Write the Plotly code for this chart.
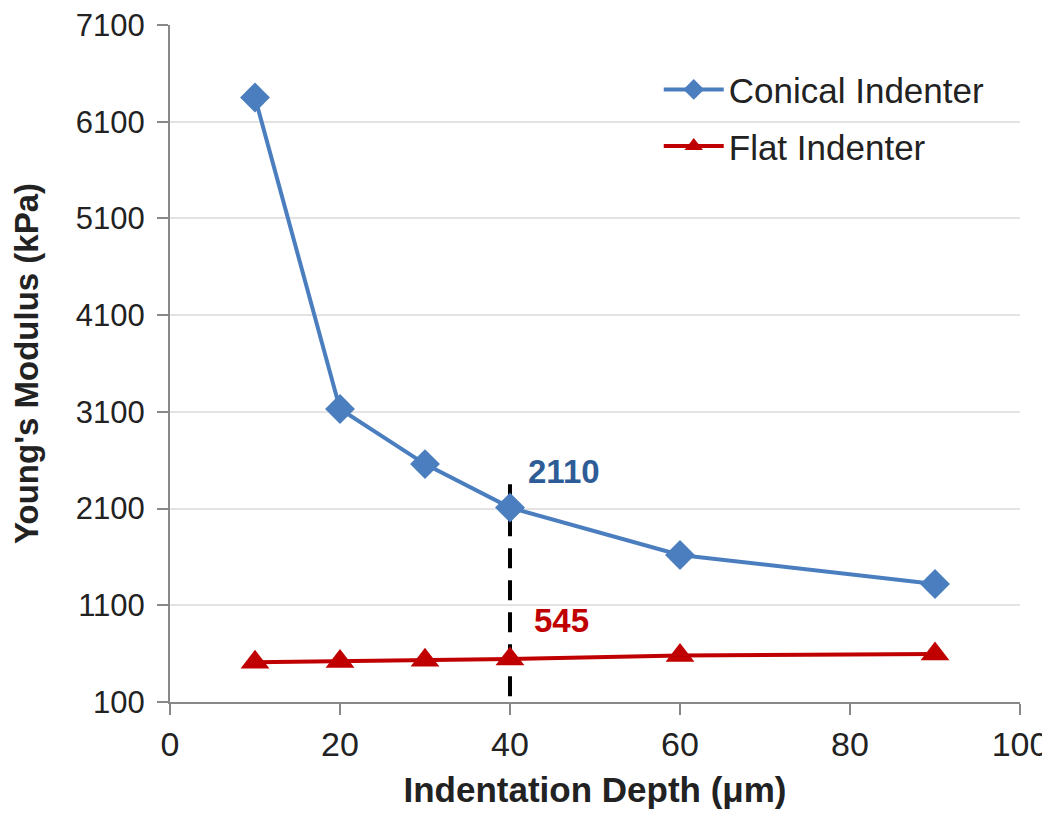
import plotly.graph_objects as go

depth = [10, 20, 30, 40, 60, 90]
conical = [6350, 3130, 2560, 2110, 1620, 1320]
flat = [510, 520, 532, 545, 580, 597]
x_ticks = [0, 20, 40, 60, 80, 100]
y_ticks = [100, 1100, 2100, 3100, 4100, 5100, 6100, 7100]
marker_depth = 40
dash_range = [160, 2430]

BLUE = "#4A7EBF"
RED = "#C00000"
FONT = "Arial, Liberation Sans, sans-serif"

fig = go.Figure()
fig.add_trace(go.Scatter(
    x=depth, y=conical, mode="lines+markers", name="Conical Indenter",
    legendgroup="a",
    line=dict(color=BLUE, width=4),
    marker=dict(symbol="diamond", size=23, color=BLUE),
))
fig.add_trace(go.Scatter(
    x=depth, y=flat, mode="lines+markers", name="Flat Indenter",
    legendgroup="b",
    line=dict(color=RED, width=4),
    marker=dict(symbol="triangle-up", size=25, color=RED),
))

fig.add_shape(type="line", x0=marker_depth, x1=marker_depth,
              y0=dash_range[0], y1=dash_range[1], xref="x", yref="y",
              line=dict(color="black", width=4, dash="20px,12px"), layer="below")

fig.add_annotation(x=marker_depth, y=conical[3], text="<b>2110</b>", showarrow=False,
                   xanchor="left", yanchor="bottom", xshift=16, yshift=16,
                   font=dict(family=FONT, size=33, color="#2E5C97"))
fig.add_annotation(x=marker_depth, y=flat[3], text="<b>545</b>", showarrow=False,
                   xanchor="left", yanchor="bottom", xshift=22, yshift=18,
                   font=dict(family=FONT, size=33, color=RED))

fig.update_layout(
    width=1050, height=817,
    margin=dict(l=162, r=38, t=17, b=123),
    paper_bgcolor="white", plot_bgcolor="white",
    font=dict(family=FONT, color="#222"),
    legend=dict(x=0.575, y=0.948, xanchor="left", yanchor="top",
                font=dict(size=35, color="#222"), bgcolor="rgba(0,0,0,0)",
                tracegroupgap=8, traceorder="grouped", itemwidth=60),
    xaxis=dict(range=[0, 100], tickvals=x_ticks, ticks="outside", ticklen=11,
               tickcolor="#888", tickwidth=2, showline=True, linecolor="#888",
               linewidth=2, showgrid=False, zeroline=False, automargin=False,
               tickfont=dict(size=34),
               title=dict(text="<b>Indentation Depth (μm)</b>", standoff=16,
                          font=dict(size=35))),
    yaxis=dict(range=[100, 7100], tickvals=y_ticks, ticks="outside", ticklen=11,
               tickcolor="#888", tickwidth=2, showline=True, linecolor="#888",
               linewidth=2, showgrid=True, gridcolor="#E3E3E3", gridwidth=2,
               zeroline=False, tickfont=dict(size=31), ticklabelstandoff=6,
               ticklabeloverflow="allow", automargin=False,
               title=dict(text="<b>Young's Modulus (kPa)</b>", standoff=30,
                          font=dict(size=33))),
)

fig.write_html("out.html")
